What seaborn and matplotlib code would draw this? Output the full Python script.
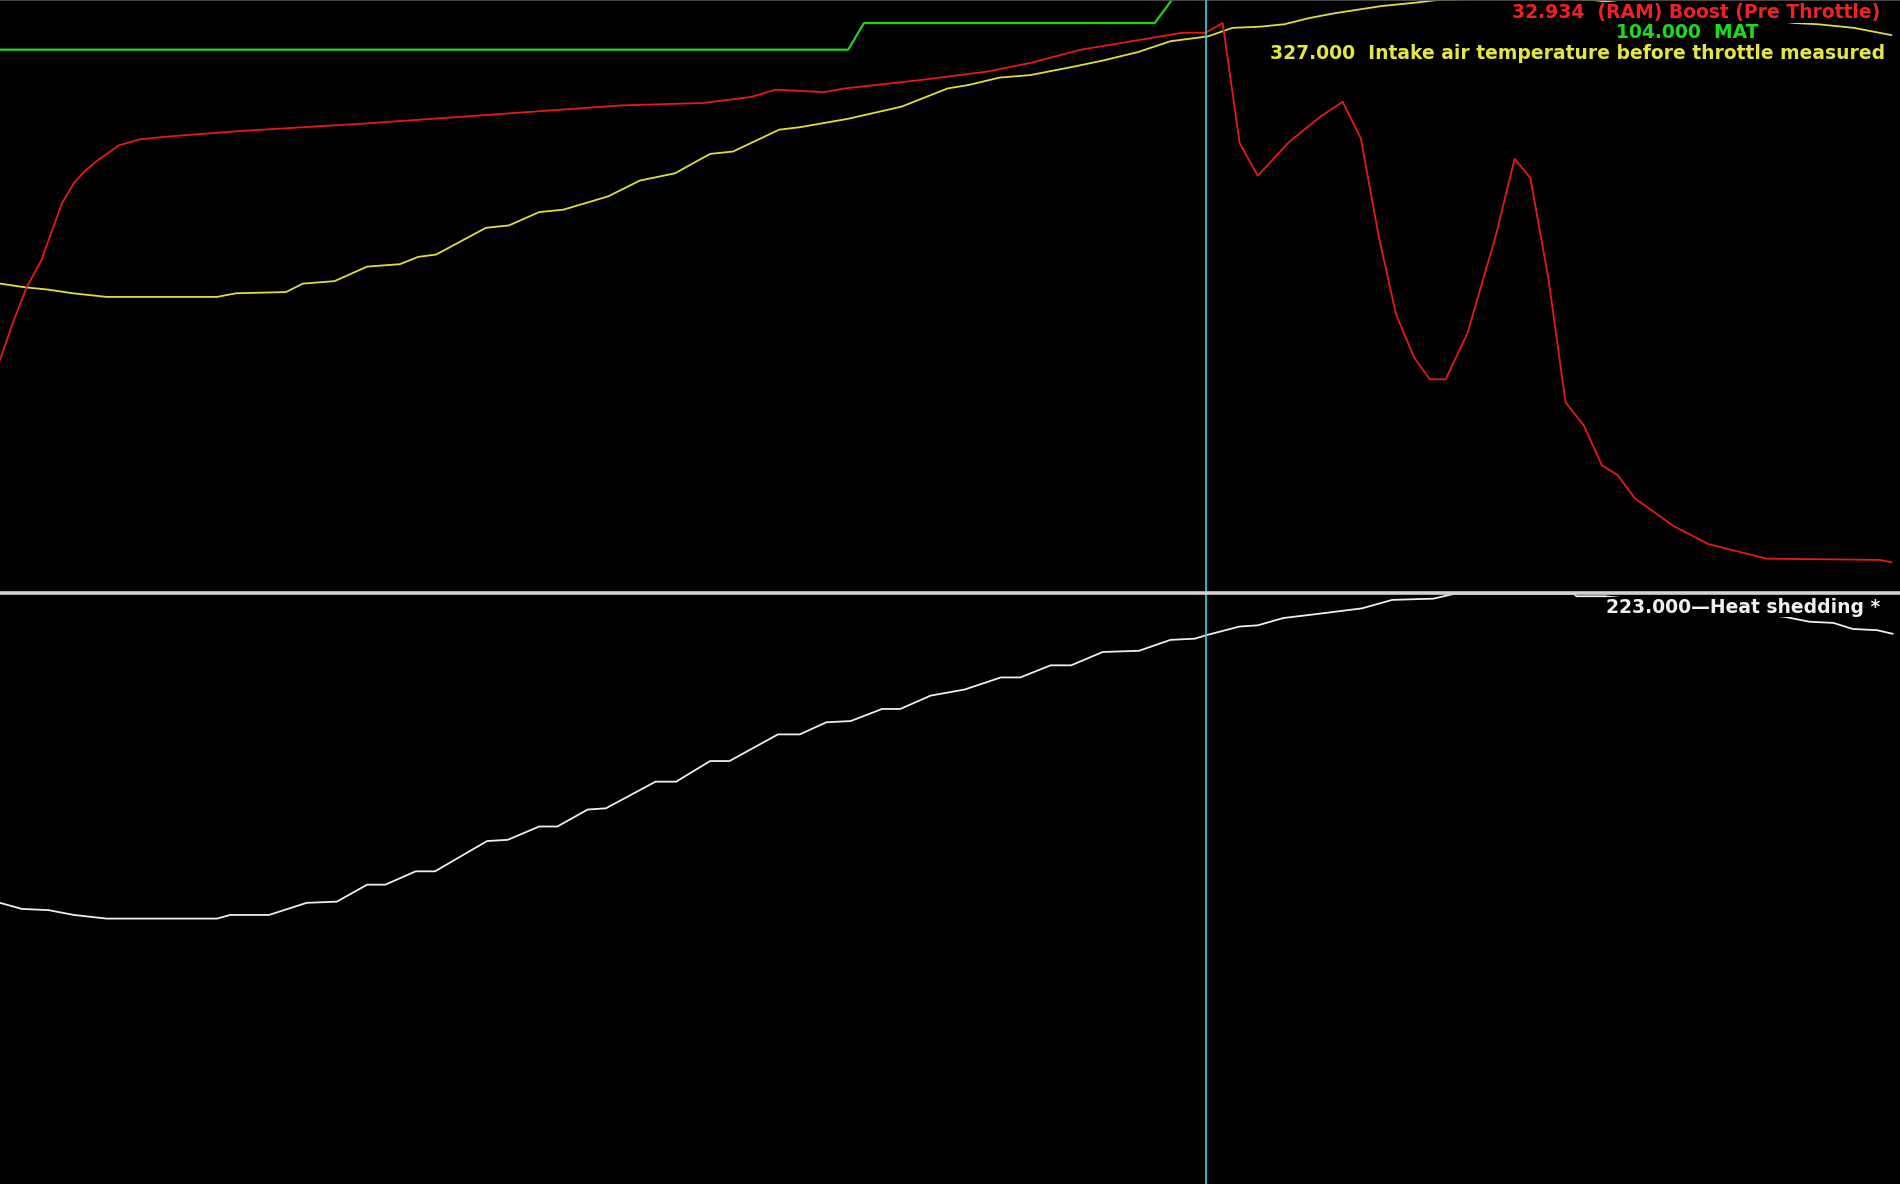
import numpy as np
import pandas as pd
import matplotlib
matplotlib.use("Agg")
import matplotlib.pyplot as plt
import seaborn as sns

# trace heights read off the log viewer (no axis scale shown), time in samples
boost_t = [0, 10, 22, 34, 51, 61, 70, 81, 98, 115, 135, 160, 200, 300, 400, 512, 580, 620, 640, 680,
           697, 760, 815, 850, 892, 940, 976, 995, 1009, 1023, 1038, 1064, 1090, 1108, 1123, 1138,
           1152, 1167, 1180, 1193, 1211, 1234, 1250, 1263, 1278, 1292, 1307, 1322, 1335, 1349, 1381,
           1410, 1458, 1551, 1561]
boost = [192, 221, 252, 274, 321, 338, 348, 357, 369, 374, 376, 378, 381, 387, 394, 402, 404, 409, 415, 413,
         416, 423, 430, 437, 448, 456, 462, 462, 470, 371, 344, 372, 393, 405, 375, 293,
         230, 194, 176, 176, 214, 293, 358, 342, 258, 157, 138, 105, 97, 78, 55,
         40, 28, 27, 25]

mat_t = [0, 700, 713, 953, 967, 975, 1561]
mat = [448, 448, 470, 470, 489, 497, 497]

iat_t = [0, 20, 40, 60, 88, 179, 195, 236, 250, 276, 303, 330, 345, 360, 401, 420, 445, 465, 502, 528,
         557, 586, 605, 643, 660, 700, 744, 782, 800, 825, 850, 886, 910, 939, 966, 997, 1017, 1040,
         1060, 1080, 1101, 1140, 1170, 1186, 1220, 1290, 1315, 1340, 1400, 1481, 1500, 1530, 1561]
iat = [255, 252, 250, 247, 244, 244, 247, 248, 255, 257, 269, 271, 277, 279, 301, 303, 314, 316, 327, 340,
       346, 362, 364, 382, 384, 391, 401, 416, 419, 425, 427, 434, 439, 446, 455, 459, 466, 467,
       469, 474, 478, 484, 487, 489, 490, 490, 489, 486, 480, 470, 469, 466, 460]

heat_t = [0, 18, 40, 61, 88, 179, 190, 222, 253, 278, 303, 318, 343, 359, 402, 419, 445, 460, 485, 500,
          541, 558, 586, 602, 642, 660, 682, 702, 728, 743, 768, 796, 826, 842, 867, 884, 910, 940,
          966, 986, 996, 1023, 1038, 1059, 1084, 1124, 1149, 1183, 1200, 1299, 1301, 1324, 1400,
          1473, 1493, 1513, 1529, 1549, 1562]
heat = [232, 227, 226, 222, 219, 219, 222, 222, 232, 233, 247, 247, 258, 258, 283, 284, 295, 295, 309, 310,
        332, 332, 349, 349, 371, 371, 381, 382, 392, 392, 403, 408, 418, 418, 428, 428, 439, 440,
        449, 450, 453, 460, 461, 467, 470, 475, 482, 483, 487, 487, 485, 485, 477,
        468, 464, 463, 458, 457, 454]

cursor_t = 995
labels_top = [("32.934  (RAM) Boost (Pre Throttle)", "#ee2222", 1552, 478.5),
              ("104.000  MAT", "#19dd19", 1451, 462),
              ("327.000  Intake air temperature before throttle measured", "#e6e640", 1556, 445)]
label_heat = "223.000\u2014Heat shedding *"

sns.set_style("dark", rc={"axes.facecolor": "black", "figure.facecolor": "black"})
plt.rcParams['font.family'] = ['DejaVu Sans']

W, H = 1568, 977
top_h, bot_h = 489, 487
fig = plt.figure(figsize=(19, 11.84), dpi=100)
ax1 = fig.add_axes([0, 1 - top_h / H, 1, top_h / H])
ax2 = fig.add_axes([0, 0, 1, bot_h / H])

sns.lineplot(x=mat_t, y=mat, ax=ax1, color="#1fd21f", lw=1.6)
sns.lineplot(x=iat_t, y=iat, ax=ax1, color="#dede3c", lw=1.3)
sns.lineplot(x=boost_t, y=boost, ax=ax1, color="#e81818", lw=1.3)
sns.lineplot(x=heat_t, y=heat, ax=ax2, color="#eeeeee", lw=1.3)

for ax, h in [(ax1, top_h), (ax2, bot_h)]:
    ax.set_xlim(0, W)
    ax.set_ylim(0, h)
    ax.set_xticks([])
    ax.set_yticks([])
    ax.set_xlabel("")
    ax.set_ylabel("")
    for s in ax.spines.values():
        s.set_visible(False)
    ax.axvline(cursor_t, color="#33c6d8", lw=1.3, zorder=5)

# border lines
ax1.axhline(top_h, color="#555555", lw=1.2)
fig.add_artist(plt.Line2D([0, 1], [1 - 489 / H, 1 - 489 / H], color="#d2d2d2", lw=2.6,
                          transform=fig.transFigure))

box = dict(facecolor="black", edgecolor="none", pad=0.5)
for txt, col, x, y in labels_top:
    ax1.text(x, y, txt, color=col, ha="right", va="center", fontsize=13.5,
             fontweight="bold", bbox=box, zorder=6)
ax2.text(1552, 476, label_heat, color="#f0f0f0", ha="right", va="center", fontsize=13.5,
         fontweight="bold", bbox=box, zorder=6)

fig.savefig("out.png", dpi=100, facecolor="black")
